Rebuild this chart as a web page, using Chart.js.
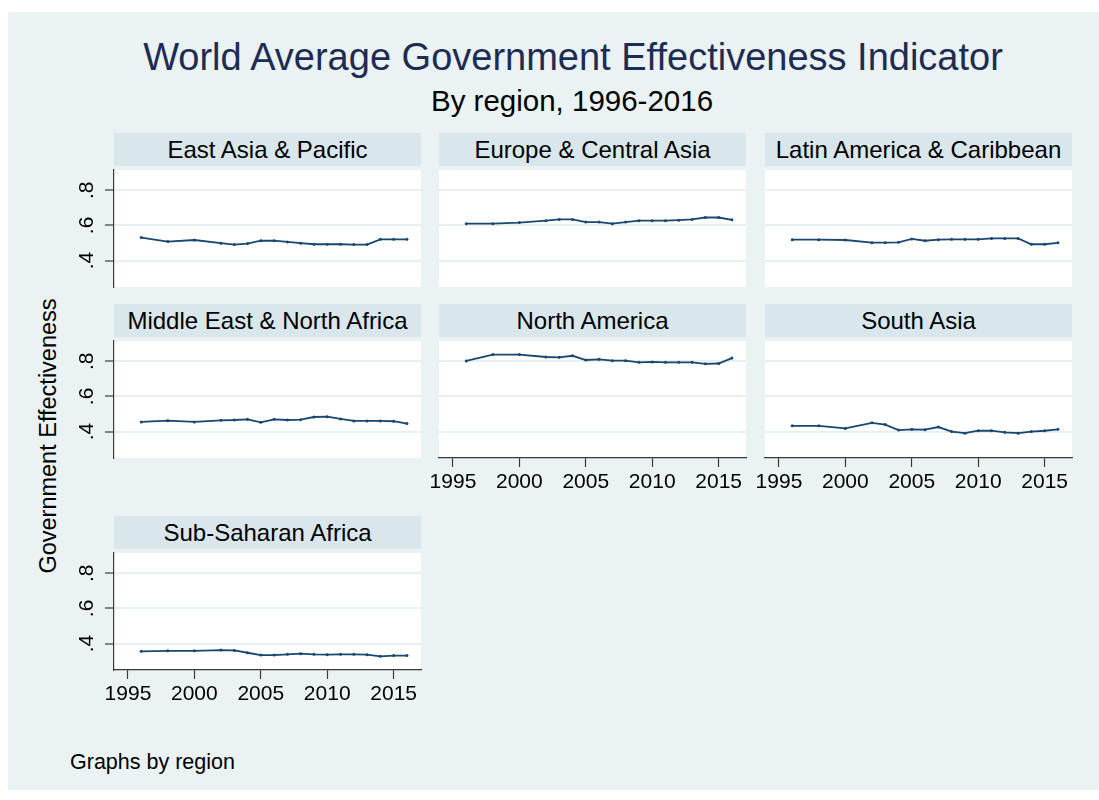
<!DOCTYPE html>
<html>
<head>
<meta charset="utf-8">
<title>World Average Government Effectiveness Indicator</title>
<script src="https://cdn.jsdelivr.net/npm/chart.js@4.4.0/dist/chart.umd.min.js"></script>
<style>
body { margin: 0; background: #fff; font-family: "Liberation Sans", Arial, Helvetica, sans-serif; }
#page { position: relative; width: 1099px; height: 800px; overflow: hidden; }
#bg { position: absolute; left: 8px; top: 12px; width: 1091px; height: 778px; background: #eaf2f3; }
.txt { position: absolute; white-space: nowrap; color: #000; }
#title { left: 73px; top: 35px; width: 1000px; line-height: 44px; text-align: center; font-size: 38px; color: #1e2c54; }
#subtitle { left: 72px; top: 84px; width: 1000px; line-height: 34px; text-align: center; font-size: 29.5px; }
#ytitle { left: -152px; top: 422px; width: 400px; line-height: 28px; text-align: center; font-size: 23.5px; transform: rotate(-90deg); }
#note { left: 70px; top: 749px; line-height: 26px; font-size: 21.5px; }
.strip { position: absolute; background: #d9e6eb; text-align: center; font-size: 24px; line-height: 33px; color: #000; white-space: nowrap; }
canvas { position: absolute; }
</style>
</head>
<body>
<div id="page">
	<div id="bg"></div>
	<div class="txt" id="title">World Average Government Effectiveness Indicator</div>
	<div class="txt" id="subtitle">By region, 1996-2016</div>
	<div class="txt" id="ytitle">Government Effectiveness</div>
	<div class="txt" id="note">Graphs by region</div>
</div>
<script>

// survey years (biennial until 2002, annual after)
let years = [1996, 1998, 2000, 2002, 2003, 2004, 2005, 2006, 2007, 2008, 2009, 2010, 2011, 2012, 2013, 2014, 2015, 2016];

let eastAsia = [0.531, 0.508, 0.517, 0.499, 0.491, 0.497, 0.513, 0.513, 0.506, 0.499, 0.493, 0.493, 0.493, 0.491, 0.491, 0.521, 0.521, 0.521];
let europe = [0.610, 0.610, 0.616, 0.627, 0.634, 0.634, 0.619, 0.619, 0.610, 0.619, 0.627, 0.627, 0.627, 0.630, 0.634, 0.645, 0.645, 0.632];
let latinAmerica = [0.519, 0.519, 0.517, 0.502, 0.502, 0.504, 0.523, 0.513, 0.519, 0.521, 0.521, 0.521, 0.526, 0.526, 0.526, 0.493, 0.493, 0.501];
let middleEast = [0.455, 0.462, 0.455, 0.464, 0.466, 0.470, 0.453, 0.470, 0.466, 0.468, 0.483, 0.485, 0.472, 0.461, 0.461, 0.461, 0.459, 0.446];
let northAmerica = [0.802, 0.838, 0.838, 0.824, 0.822, 0.831, 0.807, 0.811, 0.803, 0.803, 0.794, 0.796, 0.794, 0.794, 0.794, 0.785, 0.787, 0.818];
let southAsia = [0.433, 0.433, 0.418, 0.450, 0.440, 0.409, 0.413, 0.411, 0.426, 0.400, 0.391, 0.405, 0.405, 0.396, 0.391, 0.400, 0.405, 0.413];
let subSaharan = [0.356, 0.359, 0.359, 0.363, 0.361, 0.348, 0.335, 0.335, 0.339, 0.343, 0.339, 0.337, 0.339, 0.339, 0.337, 0.328, 0.332, 0.332];

let xTicks = [1995, 2000, 2005, 2010, 2015];
let yTicks = [0.4, 0.6, 0.8];

let panels = [
	{ name: "East Asia & Pacific", values: eastAsia, col: 0, row: 0 },
	{ name: "Europe & Central Asia", values: europe, col: 1, row: 0 },
	{ name: "Latin America & Caribbean", values: latinAmerica, col: 2, row: 0 },
	{ name: "Middle East & North Africa", values: middleEast, col: 0, row: 1 },
	{ name: "North America", values: northAmerica, col: 1, row: 1 },
	{ name: "South Asia", values: southAsia, col: 2, row: 1 },
	{ name: "Sub-Saharan Africa", values: subSaharan, col: 0, row: 2 }
];

// grid geometry
let colLeft = [114, 439, 765];
let rowTop = [166, 337, 549];
let plotW = 307;
let plotH = 121;
let stripH = 33;
let axisW = 60;
let axisH = 50;
let padRight = 30;

let lineColor = "#1a476f";
let gridColor = "#e6eff1";
let axisColor = "#3a3a3a";
let fontFamily = "'Liberation Sans', Arial, Helvetica, sans-serif";

// white plot region behind the lines
let plotBackground = {
	id: "plotBackground",
	beforeDraw: function(chart) {
		let a = chart.chartArea;
		chart.ctx.save();
		chart.ctx.fillStyle = "#ffffff";
		chart.ctx.fillRect(a.left, a.top, a.right - a.left, a.bottom - a.top);
		chart.ctx.restore();
	}
};

function hasPanelBelow(p) {
	return panels.some(function(q) { return q.col == p.col && q.row == p.row + 1; });
}

function addPanel(p) {

	let page = document.getElementById("page");
	let showY = p.col == 0;
	let showX = !hasPanelBelow(p);

	let strip = document.createElement("div");
	strip.className = "strip";
	strip.style.left = colLeft[p.col] + "px";
	strip.style.top = (rowTop[p.row] - stripH) + "px";
	strip.style.width = plotW + "px";
	strip.style.height = stripH + "px";
	strip.appendChild(document.createTextNode(p.name));
	page.appendChild(strip);

	let canvas = document.createElement("canvas");
	canvas.width = axisW + plotW + padRight;
	canvas.height = plotH + axisH;
	canvas.style.left = (colLeft[p.col] - axisW) + "px";
	canvas.style.top = rowTop[p.row] + "px";
	page.appendChild(canvas);

	new Chart(canvas, {
		type: "line",
		data: {
			datasets: [{
				data: years.map(function(y, i) { return { x: y, y: p.values[i] }; }),
				borderColor: lineColor,
				borderWidth: 1.8,
				pointRadius: 1.5,
				pointBackgroundColor: lineColor,
				pointBorderWidth: 0,
				tension: 0
			}]
		},
		options: {
			responsive: false,
			animation: false,
			layout: { padding: { left: 0, top: 0, right: padRight, bottom: 0 } },
			plugins: { legend: { display: false }, tooltip: { enabled: false } },
			scales: {
				x: {
					type: "linear",
					min: 1993.95,
					max: 2017.06,
					afterBuildTicks: function(s) { s.ticks = xTicks.map(function(v) { return { value: v }; }); },
					afterFit: function(s) { s.height = axisH; s.paddingLeft = 0; s.paddingRight = 0; },
					grid: { display: showX, drawOnChartArea: false, tickLength: 9, tickColor: axisColor, tickWidth: 1.2 },
					border: { display: showX, color: axisColor, width: 1.2 },
					ticks: {
						display: showX,
						padding: 3,
						maxRotation: 0,
						color: "#000",
						font: { size: 21, family: fontFamily },
						callback: function(v) { return String(v); }
					}
				},
				y: {
					min: 0.25,
					max: 0.915,
					afterBuildTicks: function(s) { s.ticks = yTicks.map(function(v) { return { value: v }; }); },
					afterFit: function(s) { s.width = axisW; s.paddingTop = 0; s.paddingBottom = 0; },
					grid: { color: gridColor, lineWidth: 2, drawTicks: showY, tickLength: 9, tickColor: axisColor, tickWidth: 1.2 },
					border: { display: showY, color: axisColor, width: 1.2 },
					ticks: {
						display: showY,
						minRotation: 90,
						maxRotation: 90,
						crossAlign: "center",
						padding: 9,
						color: "#000",
						font: { size: 21, family: fontFamily },
						callback: function(v) { return String(v).replace(/^0/, ""); }
					}
				}
			}
		},
		plugins: [plotBackground]
	});

}

panels.forEach(addPanel);

</script>
</body>
</html>
